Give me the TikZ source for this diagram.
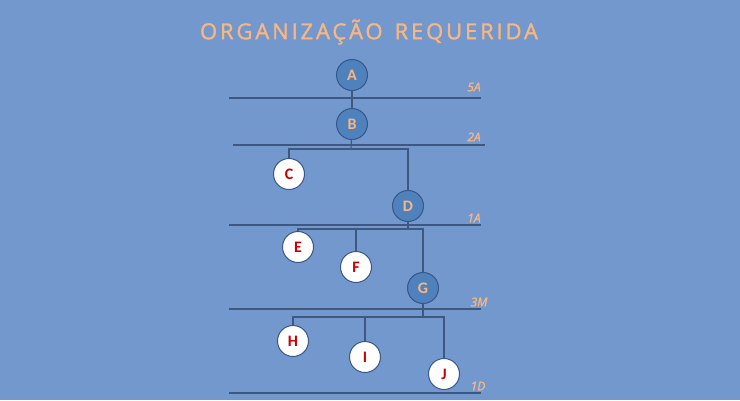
\documentclass[tikz,border=0pt]{standalone}
\usepackage{fontspec}
\setmainfont{Carlito}
\newfontfamily\titlefont[LetterSpace=13,FakeBold=1.5]{Open Sans}
\newfontfamily\lblfont[FakeBold=1.2]{Open Sans}
\definecolor{bgblue}{RGB}{115,152,205}
\definecolor{darkcirc}{RGB}{79,129,189}
\definecolor{circline}{RGB}{56,86,135}
\definecolor{linecol}{RGB}{62,88,128}
\definecolor{orangetxt}{RGB}{250,182,128}
\definecolor{redtxt}{RGB}{200,0,0}
\tikzset{
  lvl/.style={draw=linecol, line width=1.4pt},
  conn/.style={draw=linecol, line width=1.1pt},
  darknode/.style={circle, draw=circline, line width=1pt, fill=darkcirc, minimum size=31pt, inner sep=0pt, text=orangetxt, font=\bfseries\fontsize{16}{16}\selectfont},
  whitenode/.style={circle, draw=circline, line width=1pt, fill=white, minimum size=31pt, inner sep=0pt, text=redtxt, font=\bfseries\fontsize{16}{16}\selectfont},
  lvllabel/.style={text=orangetxt, font=\lblfont\itshape\fontsize{12}{12}\selectfont, anchor=center, inner sep=0pt},
}
\begin{document}
\begin{tikzpicture}[x=1pt,y=-1pt]
\fill[bgblue] (0,0) rectangle (740,400);
\useasboundingbox (0,0) rectangle (740,400);
% title
\node[text=orangetxt, font=\titlefont\fontsize{22}{22}\selectfont, inner sep=0pt] (title) at (369,32) {ORGANIZAÇÃO\hspace{12pt}REQUERIDA};
% level lines
\draw[lvl] (229,98) -- (481,98);
\draw[lvl] (233,145) -- (485,145);
\draw[lvl] (229,225) -- (481,225);
\draw[lvl] (229,309) -- (481,309);
\draw[lvl] (229,393) -- (481,393);
% level labels
\node[lvllabel] (l5a) at (474,87) {5A};
\node[lvllabel] (l2a) at (474,137) {2A};
\node[lvllabel] (l1a) at (474,218) {1A};
\node[lvllabel] (l3m) at (479,302) {3M};
\node[lvllabel] (l1d) at (478,386) {1D};
% nodes
\node[darknode] (A) at (352,75) {A};
\node[darknode] (B) at (352,124) {B};
\node[whitenode] (C) at (289,174) {C};
\node[darknode] (D) at (408,206) {D};
\node[whitenode] (E) at (298,247) {E};
\node[whitenode] (F) at (356,267) {F};
\node[darknode] (G) at (423,288) {G};
\node[whitenode] (H) at (293,341) {H};
\node[whitenode] (I) at (365,357) {I};
\node[whitenode] (J) at (444,374) {J};
% bar coordinates
\coordinate (bB) at (351,149);
\coordinate (bD) at (408,229);
\coordinate (bG) at (423,317);
% connectors
\draw[conn] (A) -- (B);
\draw[conn] (B) -- (bB);
\draw[conn] (C.north) -- (C.north |- bB) -- (D.north |- bB) -- (D.north);
\draw[conn] (D) -- (bD);
\draw[conn] (E.north) -- (E.north |- bD) -- (G.north |- bD) -- (G.north);
\draw[conn] (F.north) -- (F.north |- bD);
\draw[conn] (G) -- (bG);
\draw[conn] (H.north) -- (H.north |- bG) -- (J.north |- bG) -- (J.north);
\draw[conn] (I.north) -- (I.north |- bG);
\end{tikzpicture}
\end{document}
